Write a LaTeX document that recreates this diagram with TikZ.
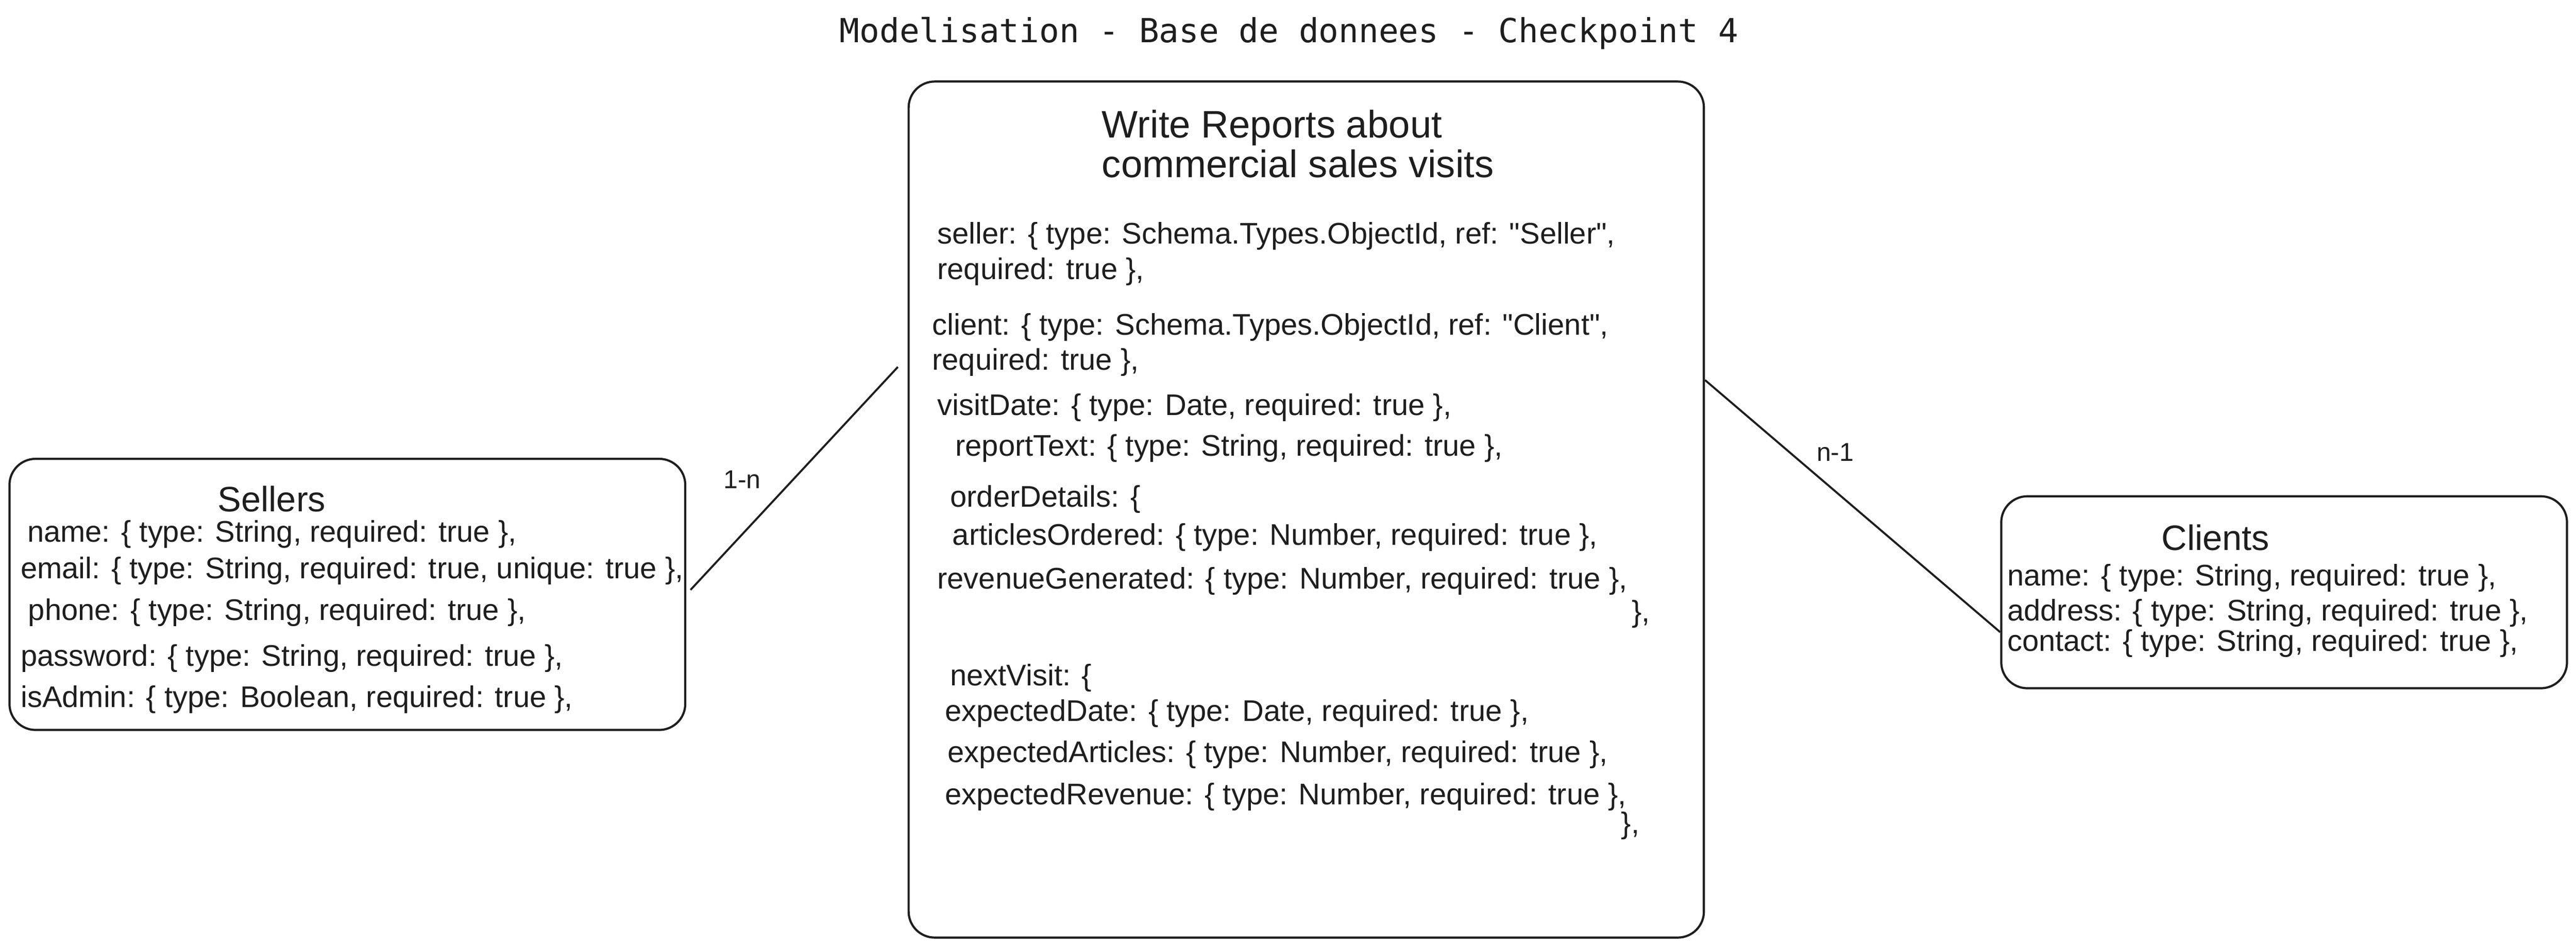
\documentclass[tikz,border=0pt]{standalone}
\usepackage{fontspec}
\setmainfont{Liberation Sans}[Ligatures=TeXOff]
\newfontfamily\monofont{DejaVu Sans Mono}
\usepackage{tikz}
\definecolor{ink}{HTML}{1E1E1E}
\newcommand{\fieldfont}{\fontsize{17.9pt}{22pt}\selectfont}
\newcommand{\headfont}{\fontsize{21.2pt}{26pt}\selectfont}
\newcommand{\bigheadfont}{\fontsize{23pt}{28pt}\selectfont}
\newcommand{\cardfont}{\fontsize{15.5pt}{19pt}\selectfont}

\begin{document}
\begin{tikzpicture}
        [
            entity/.style = {draw=ink, shape=rectangle, rounded corners=0.55cm, line width=1.3pt, inner sep=0pt},
            field/.style = {anchor=base west, inner sep=0pt, text=ink, font=\fieldfont},
            heading/.style = {anchor=base, inner sep=0pt, text=ink, font=\headfont},
            bighead/.style = {anchor=base west, inner sep=0pt, text=ink, font=\bigheadfont},
            card/.style = {inner sep=0pt, text=ink, font=\cardfont},
            relation/.style = {draw=ink, line width=1.2pt},
        ]

        \useasboundingbox (0,0) rectangle (54.32,-19.99);

        \node[anchor=base, inner sep=0pt, text=ink, font=\monofont\fontsize{19.9pt}{24pt}\selectfont] (title) at (27.18,-0.90) {Modelisation - Base de donnees - Checkpoint 4};

        \node[entity, minimum width=14.25cm, minimum height=5.72cm] (sellers) at (7.325,-12.54) {};
        \node[entity, minimum width=16.77cm, minimum height=18.06cm] (reports) at (27.545,-10.75) {};
        \node[entity, minimum width=11.93cm, minimum height=4.05cm] (clients) at (48.165,-12.495) {};

        \node[heading] (sellersname) at (5.73,-10.79) {Sellers};
        \node[field] (s1) at (0.57,-11.43) {name: \{ type: String, required: true \},};
        \node[field] (s2) at (0.43,-12.20) {email: \{ type: String, required: true, unique: true \},};
        \node[field] (s3) at (0.59,-13.09) {phone: \{ type: String, required: true \},};
        \node[field] (s4) at (0.43,-14.05) {password: \{ type: String, required: true \},};
        \node[field] (s5) at (0.43,-14.92) {isAdmin: \{ type: Boolean, required: true \},};

        \node[bighead] (reportsname1) at (23.23,-2.91) {Write Reports about};
        \node[bighead] (reportsname2) at (23.23,-3.74) {commercial sales visits};
        \node[field] (r1) at (19.76,-5.14) {seller: \{ type: Schema.Types.ObjectId, ref: "Seller",};
        \node[field] (r2) at (19.76,-5.89) {required: true \},};
        \node[field] (r3) at (19.65,-7.07) {client: \{ type: Schema.Types.ObjectId, ref: "Client",};
        \node[field] (r4) at (19.65,-7.81) {required: true \},};
        \node[field] (r5) at (19.76,-8.76) {visitDate: \{ type: Date, required: true \},};
        \node[field] (r6) at (20.14,-9.62) {reportText: \{ type: String, required: true \},};
        \node[field] (r7) at (20.03,-10.70) {orderDetails: \{};
        \node[field] (r8) at (20.08,-11.50) {articlesOrdered: \{ type: Number, required: true \},};
        \node[field] (r9) at (19.76,-12.42) {revenueGenerated: \{ type: Number, required: true \},};
        \node[field] (r10) at (34.40,-13.12) {\},};
        \node[field] (r11) at (20.03,-14.46) {nextVisit: \{};
        \node[field] (r12) at (19.92,-15.22) {expectedDate: \{ type: Date, required: true \},};
        \node[field] (r13) at (19.98,-16.08) {expectedArticles: \{ type: Number, required: true \},};
        \node[field] (r14) at (19.92,-16.97) {expectedRevenue: \{ type: Number, required: true \},};
        \node[field] (r15) at (34.18,-17.58) {\},};

        \node[heading] (clientsname) at (46.72,-11.61) {Clients};
        \node[field] (c1) at (42.32,-12.36) {name: \{ type: String, required: true \},};
        \node[field] (c2) at (42.32,-13.10) {address: \{ type: String, required: true \},};
        \node[field] (c3) at (42.32,-13.74) {contact: \{ type: String, required: true \},};

        \node[card] (onemany) at (15.65,-10.12) {1-n};
        \node[card] (manyone) at (38.70,-9.54) {n-1};

        \draw [relation, shorten <=0.13cm, shorten >=0.3cm] (sellers.east) -- (reports.159.6);
        \draw [relation] (reports.18.5) -- (clients.188.2);
    \end{tikzpicture}
\end{document}
